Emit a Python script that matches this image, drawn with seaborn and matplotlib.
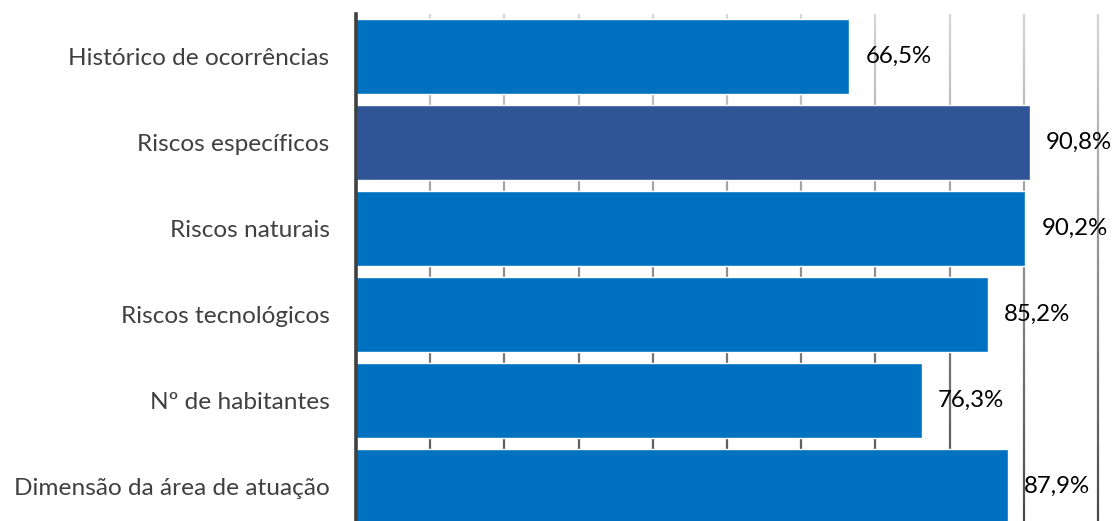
import numpy as np
import matplotlib
matplotlib.use("Agg")
import matplotlib.pyplot as plt
import matplotlib.transforms as mtransforms
from matplotlib.collections import LineCollection
from matplotlib.colors import LinearSegmentedColormap
import seaborn as sns
import pandas as pd

categories = [
    "Histórico de ocorrências",
    "Riscos específicos",
    "Riscos naturais",
    "Riscos tecnológicos",
    "Nº de habitantes",
    "Dimensão da área de atuação",
]
values = [66.5, 90.8, 90.2, 85.2, 76.3, 87.9]
value_labels = ["66,5%", "90,8%", "90,2%", "85,2%", "76,3%", "87,9%"]
bar_colors = ["#0070C0", "#2F5597", "#0070C0", "#0070C0", "#0070C0", "#0070C0"]
grid_ticks = [10, 20, 30, 40, 50, 60, 70, 80, 90, 100]

sns.set_theme(style="white")
plt.rcParams["font.family"] = ["Lato", "DejaVu Sans"]

W, H = 1114, 521
fig = plt.figure(figsize=(W / 100, H / 100), dpi=100)
ax = fig.add_axes([356 / W, 0, (W - 356) / W, (H - 14) / H])

df = pd.DataFrame({"cat": categories, "val": values})
sns.barplot(data=df, x="val", y="cat", hue="cat", palette=bar_colors,
            legend=False, width=0.872, saturation=1, ax=ax, zorder=3)

ax.set_xlim(0, (W - 356) / 7.42)
ax.set_ylim(5.40, -0.494)

# vertical gridlines shading from light at the top to dark at the bottom
trans = mtransforms.blended_transform_factory(ax.transData, ax.transAxes)
cmap = LinearSegmentedColormap.from_list("g", ["#D4D4D4", "#4A4A4A"])
n = 60
ys = np.linspace(1, 0, n + 1)
for t in grid_ticks:
    segs = [[(t, ys[i]), (t, ys[i + 1])] for i in range(n)]
    lc = LineCollection(segs, colors=[cmap(i / (n - 1)) for i in range(n)],
                        linewidths=1.6, transform=trans, zorder=1)
    ax.add_collection(lc)

for s in ["top", "right", "bottom"]:
    ax.spines[s].set_visible(False)
ax.spines["left"].set_color("#404040")
ax.spines["left"].set_linewidth(2.6)
ax.spines["left"].set_zorder(5)

ax.set_xticks([])
ax.set_xlabel("")
ax.set_ylabel("")
ax.tick_params(axis="y", length=0, pad=19, labelsize=17.6, labelcolor="#404040")

for i, (v, lab) in enumerate(zip(values, value_labels)):
    ax.annotate(lab, xy=(v, i), xytext=(16, 0), textcoords="offset pixels",
                va="center", ha="left", fontsize=17.3, color="#000000",
                annotation_clip=False, zorder=6)

fig.savefig("out.png", dpi=100)
